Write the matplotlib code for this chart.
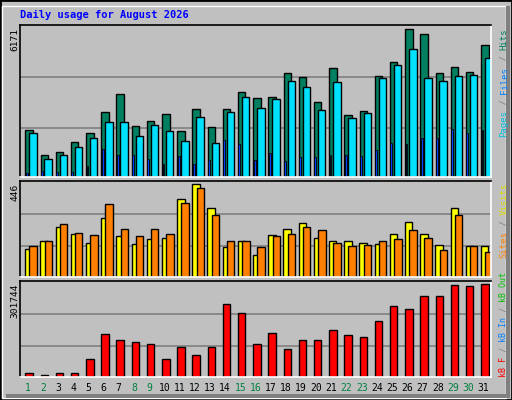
import matplotlib
matplotlib.use("Agg")
import matplotlib.pyplot as plt
from matplotlib.patches import Rectangle
import numpy as np

days = list(range(1, 32))
weekend = [1, 2, 8, 9, 15, 16, 22, 23, 29, 30]

hits = [1982, 935, 1061, 1480, 1857, 2736, 3448, 2150, 2359, 2652, 1940, 2862, 2108, 2862, 3532, 3322,
        3364, 4328, 4160, 3155, 4537, 2611, 2778, 4202, 4788, 6171, 5961, 4328, 4579, 4383, 5500]
files = [1857, 768, 935, 1270, 1647, 2317, 2317, 1731, 2192, 1940, 1522, 2527, 1438, 2736, 3364, 2904,
         3239, 3993, 3741, 2820, 3951, 2485, 2694, 4118, 4663, 5333, 4118, 3993, 4202, 4244, 4956]
pages = [181, 265, 223, 223, 475, 1187, 935, 935, 768, 558, 893, 558, 726, 1564, 1396, 726,
         1019, 684, 852, 852, 935, 935, 893, 1145, 1438, 1396, 1647, 1647, 2024, 1857, 1982]
visits = [137, 175, 243, 209, 166, 282, 195, 161, 185, 190, 374, 446, 330, 142, 171, 108,
          204, 229, 262, 190, 175, 175, 166, 161, 209, 267, 209, 156, 330, 151, 151]
sites = [147, 175, 253, 214, 200, 349, 233, 195, 229, 209, 354, 427, 296, 171, 175, 142,
         195, 209, 243, 224, 166, 151, 156, 171, 185, 224, 190, 132, 296, 151, 118]
kbytes = [14313, 7707, 14313, 14313, 57252, 139827, 120009, 113403, 106797, 57252, 96888, 70464,
          96888, 238917, 209190, 106797, 143130, 90282, 120009, 120009, 153039, 136524, 129918,
          182766, 232311, 222402, 265341, 265341, 298371, 295068, 301744]

W, H = 512, 400
BG = "#C0C0C0"
MONO = "DejaVu Sans Mono"

fig = plt.figure(figsize=(W / 100, H / 100), dpi=100, facecolor=BG)

# outer bevel
fig.patches.append(Rectangle((0, 0), 1, 1, transform=fig.transFigure, fill=False,
                             edgecolor="black", linewidth=2))
fig.patches.append(Rectangle((2 / W, 2 / H), 1 - 8 / W, 1 - 8 / H, transform=fig.transFigure,
                             fill=False, edgecolor="white", linewidth=1))
fig.patches.append(Rectangle((6 / W, 2 / H), 1 - 8 / W, 4 / H, transform=fig.transFigure,
                             facecolor="#808080", edgecolor="none"))
fig.patches.append(Rectangle((1 - 6 / W, 2 / H), 4 / W, 1 - 8 / H, transform=fig.transFigure,
                             facecolor="#808080", edgecolor="none"))


def panel(top, bottom):
    return fig.add_axes([20 / W, 1 - bottom / H, 471 / W, (bottom - top) / H])


def style(ax, ymax):
    ax.set_facecolor(BG)
    ax.set_xlim(0.5, 31.5)
    ax.set_ylim(0, ymax)
    for y in (0.32, 0.66):
        ax.axhline(ymax * y, color="#808080", linewidth=1.2, zorder=0)
    ax.set_xticks([])
    ax.set_yticks([])
    for s in ax.spines.values():
        s.set_color("white")
        s.set_linewidth(1.2)
    ax.spines["top"].set_color("black")
    ax.spines["left"].set_color("black")


x = np.array(days)
bkw = dict(align="edge", edgecolor="black", linewidth=1)

ax1 = panel(25, 177)
style(ax1, 6352)
ax1.bar(x - 0.15, hits, 0.49, color="#008060", **bkw)
ax1.bar(x + 0.11, files, 0.49, color="#00E0FF", **bkw)
ax1.bar(x - 0.12, pages, 0.12, color="#0040FF", edgecolor="black", linewidth=0.6, align="edge")

ax2 = panel(181, 277)
style(ax2, 462)
ax2.bar(x - 0.16, visits, 0.49, color="#FFFF00", **bkw)
ax2.bar(x + 0.12, sites, 0.49, color="#FF8000", **bkw)

ax3 = panel(281, 377)
style(ax3, 312700)
ax3.bar(x - 0.15, kbytes, 0.49, color="#FF0000", **bkw)

for d in days:
    ax3.text(d, -0.06, str(d), transform=ax3.get_xaxis_transform(), ha="center", va="top",
             fontsize=7, family=MONO, color="#008040" if d in weekend else "black")

fig.text(20 / W, 1 - 15 / H, "Daily usage for August 2026", color="#0000FF", fontsize=7.5,
         family=MONO, fontweight="bold", va="center")

for ypix, lab in ((28, "6171"), (184, "446"), (284, "301744")):
    fig.text(15 / W, 1 - ypix / H, lab, rotation=90, ha="center", va="top",
             fontsize=6.8, family=MONO)


def side_label(parts, ybottom, fs):
    # parts listed bottom to top, stacked along a rotated monospace line
    step = 0.602 * fs * 100 / 72
    y = ybottom
    for txt, col in parts:
        fig.text(504 / W, 1 - y / H, txt, rotation=90, ha="center", va="bottom",
                 fontsize=fs, family=MONO, color=col)
        y -= step * len(txt)


side_label([("Pages", "#00C0E0"), (" / ", "#808080"), ("Files", "#0080FF"),
            (" / ", "#808080"), ("Hits", "#008060")], 137, 6.5)
side_label([("Sites", "#FF8000"), (" / ", "#808080"), ("Visits", "#E0E000")], 258, 6.5)
side_label([("kB F", "#FF0000"), (" / ", "#808080"), ("kB In", "#0080FF"),
            (" / ", "#808080"), ("kB Out", "#00C000")], 377, 6.0)

fig.savefig("out.png", dpi=100, facecolor=BG)
